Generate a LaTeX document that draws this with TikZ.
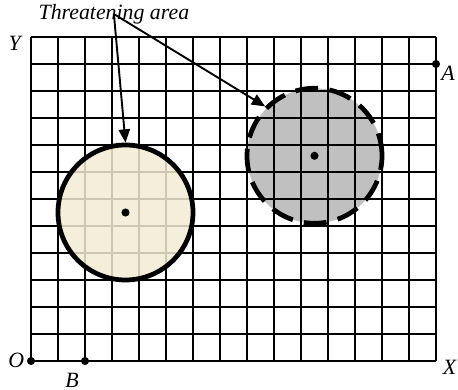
\documentclass[tikz,border=0pt]{standalone}
\usepackage{fontspec}
\setmainfont{Liberation Serif}[ItalicFont={Liberation Serif Italic}]
\usetikzlibrary{arrows.meta}
\definecolor{zonebeige}{HTML}{F2EBD3}
\definecolor{zonegray}{HTML}{C0C0C0}
\newcommand{\gridpt}[1]{\fill (#1) circle (0.15);}

\begin{document}
\begin{tikzpicture}[x=0.5cm,y=0.5cm,
  lbl/.style={font=\fontsize{11.5}{13}\selectfont\itshape, inner sep=0pt},
  zone/.style={circle, minimum size=2.5cm, inner sep=0pt, line width=2.5pt},
  pointer/.style={line width=1pt, -{Triangle[length=7pt,width=6pt]}}]
  \useasboundingbox (-1.148,-1.074) rectangle (15.815,13.37);
  \fill[zonegray] (10.5,7.6) circle (2.5);
  \draw[line width=1.1pt, step=0.5cm] (0,0) grid (15,12);
  \node[zone, fill=zonebeige, fill opacity=0.85, draw] (threatA) at (3.5,5.5) {};
  \node[zone, draw, dash pattern=on 12pt off 6pt] (threatB) at (10.5,7.6) {};
  \coordinate (O) at (0,0);
  \coordinate (B) at (2,0);
  \coordinate (A) at (15,11);
  \gridpt{threatA.center}
  \gridpt{threatB.center}
  \gridpt{O}
  \gridpt{B}
  \gridpt{A}
  \node[lbl] (Ylbl) at (-0.6,11.75) {Y};
  \node[lbl] (Olbl) at (-0.55,0.04) {O};
  \node[lbl] (Blbl) at (1.52,-0.72) {B};
  \node[lbl] (Xlbl) at (15.5,-0.22) {X};
  \node[lbl] (Albl) at (15.45,10.65) {A};
  \node[lbl] (caption) at (3.07,12.85) {Threatening area};
  \draw[pointer] (caption.center) -- (threatA.north);
  \draw[pointer] (caption.center) -- (threatB.135);
\end{tikzpicture}
\end{document}
